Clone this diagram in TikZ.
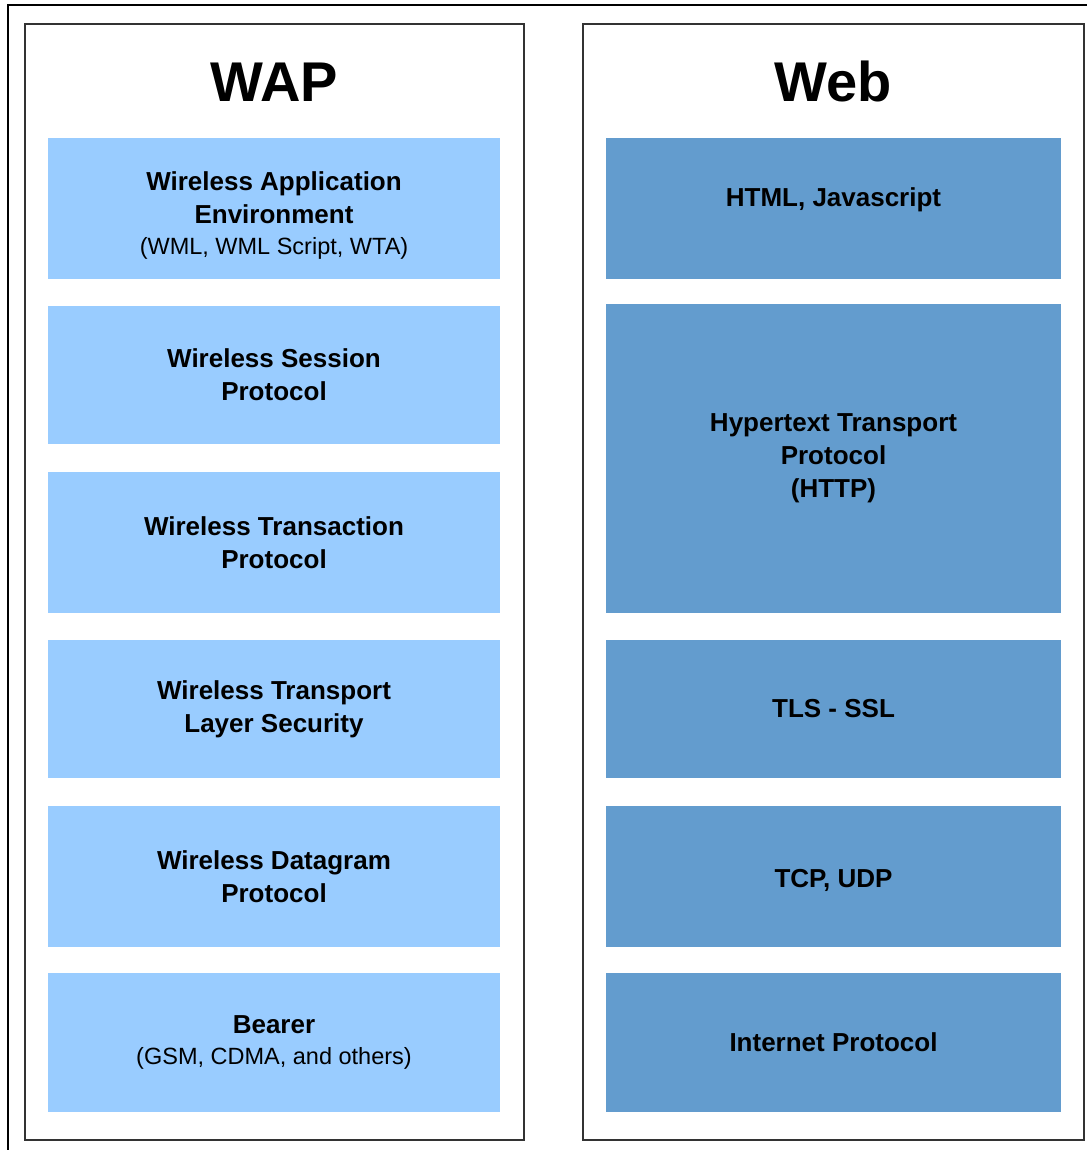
\documentclass[tikz,border=0pt]{standalone}
\usepackage{fontspec}
\setmainfont{Liberation Sans}
\definecolor{waplight}{HTML}{99CCFF}
\definecolor{webdark}{HTML}{639CCE}
\definecolor{frameline}{HTML}{333333}
\begin{document}
\begin{tikzpicture}[x=1pt,y=1pt,
  panel/.style={draw=frameline,line width=2.2pt,fill=white,inner sep=0pt},
  layer/.style={inner sep=0pt,align=center,text=black,
    font=\bfseries\fontsize{26}{33}\selectfont},
  wapbox/.style={layer,fill=waplight,minimum width=452pt},
  webbox/.style={layer,fill=webdark,minimum width=455pt},
  title/.style={font=\bfseries\fontsize{56}{60}\selectfont,anchor=base,inner sep=0pt}]
\useasboundingbox (0,0) rectangle (1086,1150);
% outer frame (cropped at right and bottom)
\draw[line width=2.4pt,black] (8,0) -- (8,1145) -- (1090,1145);
% panels
\node[panel,minimum width=499pt,minimum height=1116pt] (wappanel) at (274.5,568) {};
\node[panel,minimum width=501pt,minimum height=1116pt] (webpanel) at (833.5,568) {};
% titles
\node[title] (waptitle) at (274,1048) {WAP};
\node[title] (webtitle) at (833.5,1048) {Web};
\newcommand{\subline}[1]{{\mdseries\fontsize{23.5}{31}\selectfont #1}}
% WAP stack
\node[wapbox,minimum height=141pt] (wae) at (274,941.5) {};
\node[layer] (waetext) at ([yshift=-7pt]wae.center)
  {Wireless Application\\Environment\\[-2pt]\subline{(WML, WML Script, WTA)}};
\node[wapbox,minimum height=138pt] (wsp) at (274,775)
  {Wireless Session\\Protocol};
\node[wapbox,minimum height=141pt] (wtp) at (274,607.5)
  {Wireless Transaction\\Protocol};
\node[wapbox,minimum height=138pt] (wtls) at (274,441)
  {Wireless Transport\\Layer Security};
\node[wapbox,minimum height=141pt] (wdp) at (274,273.5)
  {Wireless Datagram\\Protocol};
\node[wapbox,minimum height=139pt] (bearer) at (274,107.5)
  {Bearer\\[-2pt]\subline{(GSM, CDMA, and others)}};
% Web stack
\node[webbox,minimum height=141pt] (html) at (833.5,941.5) {};
\node[layer] (htmltext) at ([yshift=9pt]html.center) {HTML, Javascript};
\node[webbox,minimum height=309pt] (http) at (833.5,691.5)
  {Hypertext Transport\\Protocol\\(HTTP)};
\node[webbox,minimum height=138pt] (tls) at (833.5,441)
  {TLS - SSL};
\node[webbox,minimum height=141pt] (tcp) at (833.5,273.5) {};
\node[layer] (tcptext) at ([yshift=-4pt]tcp.center) {TCP, UDP};
\node[webbox,minimum height=139pt] (ip) at (833.5,107.5)
  {Internet Protocol};
\end{tikzpicture}
\end{document}
